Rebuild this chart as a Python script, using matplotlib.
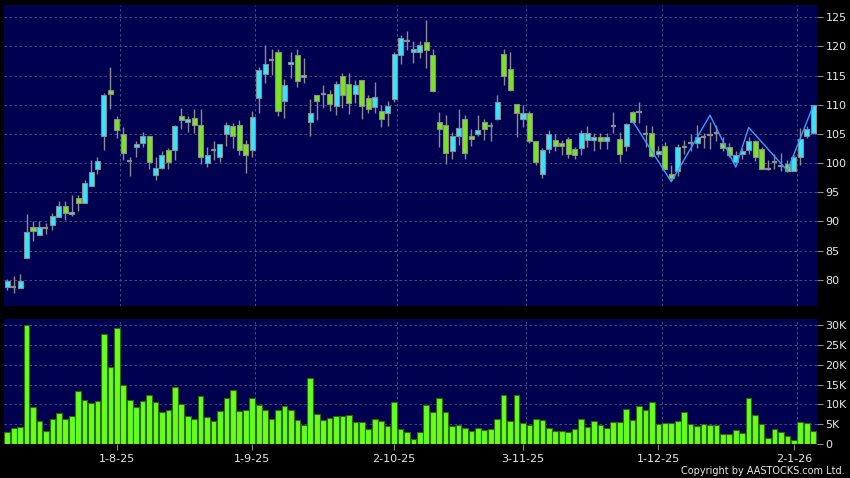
import matplotlib
matplotlib.use("Agg")
import matplotlib.pyplot as plt
import numpy as np

# daily OHLC (doji -> open == close)
OPEN = [78.8, 78.8, 78.5, 83.7, 89.0, 87.7, 88.9, 89.3, 90.7, 92.7,
        91.3, 94.0, 93.1, 96.0, 99.0, 104.6, 112.5, 107.6, 105.0, 100.3,
        102.7, 103.4, 104.6, 97.9, 99.1, 102.2, 102.2, 108.0, 107.0, 107.7,
        106.5, 100.0, 102.3, 101.0, 105.0, 106.3, 106.5, 103.3, 102.2, 111.1,
        115.3, 117.7, 119.1, 110.7, 116.9, 118.5, 114.7, 107.0, 111.6, 111.8,
        111.8, 109.8, 114.9, 113.5, 111.9, 114.2, 111.1, 109.6, 108.9, 108.6,
        110.9, 118.6, 121.0, 119.0, 119.0, 120.7, 118.5, 107.0, 106.5, 102.1,
        104.6, 107.5, 104.7, 105.0, 107.0, 106.3, 107.5, 118.7, 116.1, 110.1,
        107.5, 108.6, 103.7, 98.2, 102.4, 104.0, 103.4, 104.1, 102.4, 102.5,
        103.9, 103.9, 104.5, 103.8, 106.3, 104.1, 102.9, 108.7, 108.7, 105.0,
        105.2, 101.5, 102.9, 98.2, 98.6, 102.8, 103.4, 103.5, 104.4, 104.8,
        105.1, 103.4, 102.8, 100.2, 101.5, 102.2, 103.7, 102.4, 99.0, 100.2,
        99.5, 99.9, 98.7, 101.0, 104.7, 105.2]
HIGH = [80.2, 80.7, 81.0, 91.3, 90.0, 90.0, 89.8, 91.5, 93.5, 93.5,
        94.6, 94.6, 97.1, 100.6, 101.0, 112.0, 116.5, 108.1, 106.2, 101.0,
        103.8, 105.4, 104.6, 101.0, 102.0, 102.6, 106.6, 109.4, 108.0, 109.3,
        109.3, 102.7, 103.8, 103.2, 107.1, 106.9, 107.4, 104.0, 108.9, 116.5,
        120.2, 119.5, 119.5, 114.4, 119.0, 119.5, 118.0, 110.9, 111.7, 113.3,
        112.6, 114.0, 115.5, 115.4, 114.2, 114.3, 111.7, 113.9, 110.0, 110.6,
        119.1, 122.0, 122.7, 120.9, 121.0, 124.6, 119.5, 108.7, 108.3, 105.4,
        109.3, 108.3, 105.8, 108.2, 107.6, 107.1, 111.7, 119.6, 119.0, 110.1,
        110.0, 109.0, 103.7, 102.5, 105.7, 105.0, 104.0, 104.5, 102.8, 105.7,
        106.4, 105.1, 105.1, 105.1, 108.8, 105.4, 106.8, 108.9, 110.4, 106.6,
        106.4, 103.0, 103.6, 99.7, 103.2, 104.0, 105.0, 106.5, 105.2, 107.0,
        106.6, 104.5, 103.4, 102.0, 102.5, 104.5, 104.0, 102.7, 100.6, 101.5,
        101.8, 100.5, 101.3, 106.0, 106.3, 110.0]
LOW = [78.2, 77.8, 78.5, 83.7, 86.6, 87.7, 87.9, 88.6, 90.7, 90.3,
       91.0, 91.7, 93.1, 96.0, 98.2, 102.2, 109.3, 104.3, 100.6, 97.7,
       101.0, 102.7, 98.9, 97.1, 98.9, 98.9, 100.6, 105.8, 105.4, 105.1,
       99.9, 99.3, 100.6, 100.1, 102.9, 102.6, 101.3, 98.3, 101.1, 108.6,
       113.7, 115.1, 108.0, 107.8, 114.6, 113.1, 113.7, 104.6, 107.4, 109.4,
       108.9, 108.2, 109.4, 108.4, 110.3, 107.6, 108.5, 108.6, 106.2, 106.4,
       110.4, 116.9, 119.4, 117.1, 118.0, 116.3, 112.1, 102.7, 99.9, 100.7,
       103.1, 100.7, 102.9, 104.6, 104.0, 103.7, 107.3, 113.4, 112.3, 104.5,
       106.2, 103.4, 99.7, 97.4, 101.7, 102.0, 101.4, 100.8, 100.7, 101.4,
       102.8, 102.0, 102.4, 102.4, 105.1, 100.1, 102.0, 106.8, 106.8, 102.8,
       101.0, 101.0, 98.9, 97.0, 97.7, 101.5, 102.0, 102.5, 102.5, 102.4,
       103.8, 102.0, 101.0, 99.6, 100.7, 101.5, 100.4, 98.9, 98.8, 99.0,
       98.6, 98.4, 98.7, 99.6, 104.3, 105.0]
CLOSE = [79.8, 78.8, 79.8, 88.2, 88.3, 89.1, 88.9, 90.9, 92.7, 91.4,
         91.6, 93.1, 96.6, 98.5, 100.3, 111.7, 111.9, 105.6, 101.7, 100.3,
         103.3, 104.6, 100.2, 99.1, 101.4, 100.2, 106.3, 107.3, 107.5, 106.6,
         101.0, 101.3, 102.3, 103.2, 106.5, 104.7, 102.2, 101.4, 107.9, 116.0,
         117.0, 117.7, 109.0, 113.4, 117.3, 114.1, 115.1, 108.6, 110.7, 111.8,
         110.2, 113.5, 111.7, 110.3, 113.3, 109.8, 109.3, 111.3, 107.5, 109.8,
         118.7, 121.4, 121.0, 119.5, 120.2, 119.4, 112.3, 105.8, 101.7, 104.6,
         106.0, 101.7, 104.1, 105.7, 105.9, 106.3, 110.5, 114.9, 112.6, 108.6,
         108.6, 103.7, 100.1, 102.2, 104.9, 102.9, 103.0, 101.6, 101.4, 105.1,
         105.1, 104.5, 103.8, 104.5, 106.3, 101.6, 106.7, 107.1, 108.7, 105.0,
         101.2, 102.1, 98.9, 97.4, 102.7, 102.8, 103.4, 104.5, 104.4, 104.8,
         105.1, 102.5, 101.4, 101.4, 102.1, 103.7, 101.0, 98.9, 99.0, 100.2,
         99.5, 98.7, 101.0, 104.1, 105.8, 109.9]

# volume in thousands
VOLUME_K = [3.0, 4.1, 4.4, 30.1, 9.3, 5.7, 3.2, 6.3, 7.8, 6.4,
            7.0, 13.3, 11.1, 10.4, 10.8, 27.8, 19.4, 29.2, 14.9, 11.2,
            9.4, 10.9, 12.3, 10.5, 8.0, 8.5, 14.3, 10.1, 7.0, 6.3,
            12.2, 6.7, 5.7, 8.4, 11.7, 13.6, 8.3, 8.5, 11.6, 9.8,
            8.5, 6.2, 8.5, 9.5, 8.6, 6.0, 4.7, 16.6, 7.5, 6.0,
            6.5, 7.0, 7.2, 7.4, 5.6, 5.5, 3.7, 6.4, 5.7, 4.5,
            10.6, 3.7, 3.0, 1.3, 3.0, 9.8, 8.1, 11.7, 8.0, 4.6,
            4.8, 4.1, 3.3, 4.0, 3.6, 3.9, 6.3, 12.5, 5.7, 12.5,
            5.2, 4.8, 6.4, 6.0, 4.1, 3.3, 3.3, 3.1, 3.8, 6.3,
            4.3, 5.7, 4.8, 4.0, 5.6, 5.6, 8.9, 6.0, 9.7, 8.5,
            10.6, 5.0, 5.2, 5.2, 5.7, 8.0, 5.1, 4.5, 5.0, 4.7,
            4.9, 2.6, 2.6, 3.5, 2.8, 11.7, 7.3, 5.0, 1.5, 3.7,
            3.1, 1.9, 1.1, 5.5, 5.4, 3.2]

TICK_IDX = [17, 38, 60, 80, 101, 122]
TICK_LABELS = ["1-8-25", "1-9-25", "2-10-25", "3-11-25", "1-12-25", "2-1-26"]

ZIGZAG_IDX = [97, 103, 109, 113, 115, 121, 125]
ZIGZAG_VAL = [107.2, 96.8, 108.2, 99.3, 106.1, 98.7, 109.8]

PRICE_TICKS = [80, 85, 90, 95, 100, 105, 110, 115, 120, 125]
VOL_TICKS = [0, 5, 10, 15, 20, 25, 30]
VOL_LABELS = ["0", "5K", "10K", "15K", "20K", "25K", "30K"]

BG = "#000050"
UP = "#33e6ff"
DOWN = "#77e61e"
EDGE = "#8c8c8c"
GRID = "#55558a"
TXT = "#e8e8e8"


def style_axis(ax):
    ax.set_facecolor(BG)
    for s in ax.spines.values():
        s.set_visible(False)
    ax.yaxis.tick_right()
    ax.tick_params(axis="y", colors=EDGE, labelcolor=TXT, length=4,
                   width=0.8, labelsize=8, pad=2)
    ax.grid(axis="y", color=GRID, linestyle=(0, (3, 3)), linewidth=0.6)
    for t in TICK_IDX:
        ax.axvline(t + 0.5, color=GRID, linestyle=(0, (3, 3)), linewidth=0.6)
    ax.set_axisbelow(True)


fig = plt.figure(figsize=(8.5, 4.78), dpi=100, facecolor="black")
ax1 = fig.add_axes([4 / 850, 1 - 306 / 478, 813 / 850, 301 / 478])
ax2 = fig.add_axes([4 / 850, 1 - 444 / 478, 813 / 850, 125 / 478])

o = np.array(OPEN)
h = np.array(HIGH)
l = np.array(LOW)
c = np.array(CLOSE)
x = np.arange(len(o))

# price panel
style_axis(ax1)
ax1.vlines(x, l, h, color=EDGE, linewidth=1.0, zorder=2)
up = c > o
down = c < o
doji = c == o
ax1.bar(x[up], (c - o)[up], bottom=o[up], width=0.78, color=UP,
        edgecolor=EDGE, linewidth=0.8, zorder=3)
ax1.bar(x[down], (o - c)[down], bottom=c[down], width=0.78, color=DOWN,
        edgecolor=EDGE, linewidth=0.8, zorder=3)
ax1.hlines(c[doji], x[doji] - 0.4, x[doji] + 0.4, color=EDGE,
           linewidth=1.6, zorder=3)
ax1.plot(ZIGZAG_IDX, ZIGZAG_VAL, color="#3a9cff", linewidth=1.0, zorder=4)
ax1.set_xlim(-0.5, 125.6)
ax1.set_ylim(75.5, 127.1)
ax1.set_yticks(PRICE_TICKS)
ax1.set_xticks([])

# volume panel
style_axis(ax2)
ax2.bar(x, VOLUME_K, width=0.88, color="#66ff1a", edgecolor="#2f6a08",
        linewidth=0.8, zorder=3)
ax2.set_xlim(-0.5, 125.6)
ax2.set_ylim(0, 31.6)
ax2.set_yticks(VOL_TICKS)
ax2.set_yticklabels(VOL_LABELS)
ax2.set_xticks(TICK_IDX)
ax2.set_xticklabels(TICK_LABELS)
ax2.tick_params(axis="x", colors=EDGE, labelcolor=TXT, length=4,
                width=0.8, labelsize=8, pad=3)

fig.text(845 / 850, 1 - 471 / 478, "Copyright by AASTOCKS.com Ltd.",
         color=TXT, fontsize=7, ha="right", va="center")

fig.savefig("out.png", dpi=100, facecolor="black")
